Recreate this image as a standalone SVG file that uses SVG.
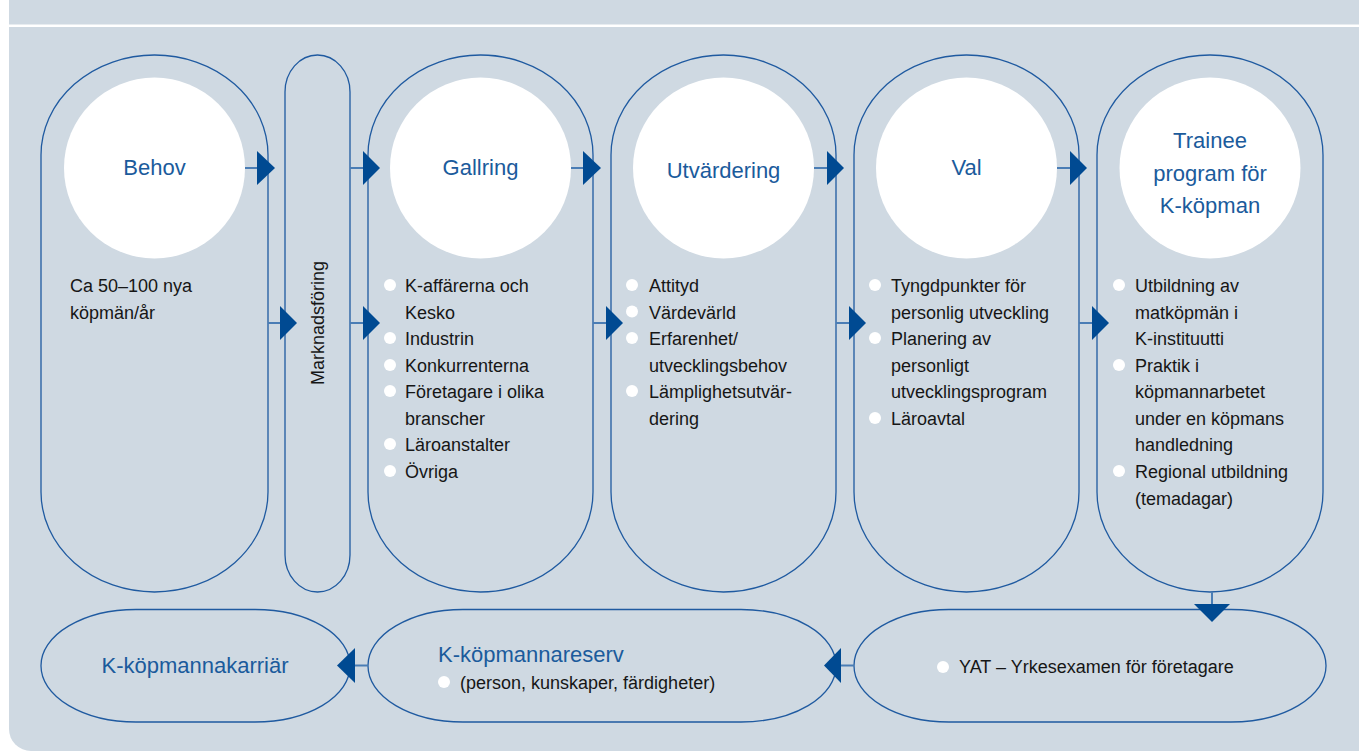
<svg xmlns="http://www.w3.org/2000/svg" width="1359" height="751" viewBox="0 0 1359 751">
  <defs>
    <style>
      .panel { fill: #cfd9e2; }
      .shape { fill: none; stroke: #1f5aa0; stroke-width: 1.3; }
      .disc { fill: #ffffff; }
      .link { stroke: #4a7db5; stroke-width: 2; fill: none; }
      .head { fill: #004a92; }
      .title { font-family: "Liberation Sans", Arial, sans-serif; font-size: 22px; fill: #1b5b9c; }
      .body { font-family: "Liberation Sans", Arial, sans-serif; font-size: 18px; fill: #161616; }
      .dot { fill: #ffffff; }
    </style>
  </defs>

  <!-- background panels -->
  <rect class="panel" x="9" y="0" width="1350" height="24.5"/>
  <path class="panel" d="M9,27 H1359 V751 H31 A22,22 0 0 1 9,729 Z"/>

  <!-- Behov -->
  <g id="node-behov">
    <rect class="shape" x="41" y="55" width="227" height="537" rx="113.5" ry="100"/>
    <circle class="disc" cx="154.5" cy="168" r="90.5"/>
    <text class="title" x="154.5" y="175" text-anchor="middle">Behov</text>
    <text class="body" x="70" y="292">Ca 50–100 nya</text>
    <text class="body" x="70" y="318.5">köpmän/år</text>
  </g>

  <!-- Marknadsföring -->
  <g id="node-marknadsforing">
    <rect class="shape" x="285" y="55" width="65" height="537" rx="32.5" ry="37"/>
    <text class="body" x="0" y="0" text-anchor="middle" transform="translate(324,323) rotate(-90)">Marknadsföring</text>
  </g>

  <!-- Gallring -->
  <g id="node-gallring">
    <rect class="shape" x="368" y="55" width="225" height="537" rx="112.5" ry="100"/>
    <circle class="disc" cx="480.5" cy="168" r="90.5"/>
    <text class="title" x="480.5" y="175" text-anchor="middle">Gallring</text>
    <g class="dot">
      <circle cx="390" cy="285" r="6"/>
      <circle cx="390" cy="338" r="6"/>
      <circle cx="390" cy="365" r="6"/>
      <circle cx="390" cy="391" r="6"/>
      <circle cx="390" cy="444" r="6"/>
      <circle cx="390" cy="471" r="6"/>
    </g>
    <text class="body" x="405" y="292">K-affärerna och</text>
    <text class="body" x="405" y="318.5">Kesko</text>
    <text class="body" x="405" y="345">Industrin</text>
    <text class="body" x="405" y="372">Konkurrenterna</text>
    <text class="body" x="405" y="398">Företagare i olika</text>
    <text class="body" x="405" y="425">branscher</text>
    <text class="body" x="405" y="451">Läroanstalter</text>
    <text class="body" x="405" y="478">Övriga</text>
  </g>

  <!-- Utvärdering -->
  <g id="node-utvardering">
    <rect class="shape" x="611" y="55" width="225" height="537" rx="112.5" ry="100"/>
    <circle class="disc" cx="723.5" cy="168" r="90.5"/>
    <text class="title" x="723.5" y="178" text-anchor="middle">Utvärdering</text>
    <g class="dot">
      <circle cx="632" cy="285" r="6"/>
      <circle cx="632" cy="311.5" r="6"/>
      <circle cx="632" cy="338" r="6"/>
      <circle cx="632" cy="391" r="6"/>
    </g>
    <text class="body" x="649" y="292">Attityd</text>
    <text class="body" x="649" y="318.5">Värdevärld</text>
    <text class="body" x="649" y="345">Erfarenhet/</text>
    <text class="body" x="649" y="372">utvecklingsbehov</text>
    <text class="body" x="649" y="398">Lämplighetsutvär-</text>
    <text class="body" x="649" y="425">dering</text>
  </g>

  <!-- Val -->
  <g id="node-val">
    <rect class="shape" x="854" y="55" width="225" height="537" rx="112.5" ry="100"/>
    <circle class="disc" cx="966.5" cy="168" r="90.5"/>
    <text class="title" x="966.5" y="175" text-anchor="middle">Val</text>
    <g class="dot">
      <circle cx="875" cy="285" r="6"/>
      <circle cx="875" cy="338" r="6"/>
      <circle cx="875" cy="418" r="6"/>
    </g>
    <text class="body" x="891" y="292">Tyngdpunkter för</text>
    <text class="body" x="891" y="318.5">personlig utveckling</text>
    <text class="body" x="891" y="345">Planering av</text>
    <text class="body" x="891" y="372">personligt</text>
    <text class="body" x="891" y="398">utvecklingsprogram</text>
    <text class="body" x="891" y="425">Läroavtal</text>
  </g>

  <!-- Trainee program -->
  <g id="node-trainee">
    <rect class="shape" x="1097" y="55" width="226" height="537" rx="113" ry="100"/>
    <circle class="disc" cx="1210" cy="168" r="90.5"/>
    <text class="title" x="1210" y="148" text-anchor="middle">Trainee</text>
    <text class="title" x="1210" y="181" text-anchor="middle">program för</text>
    <text class="title" x="1210" y="213" text-anchor="middle">K-köpman</text>
    <g class="dot">
      <circle cx="1119" cy="285" r="6"/>
      <circle cx="1119" cy="365" r="6"/>
      <circle cx="1119" cy="471" r="6"/>
    </g>
    <text class="body" x="1135" y="292">Utbildning av</text>
    <text class="body" x="1135" y="318.5">matköpmän i</text>
    <text class="body" x="1135" y="345">K-instituutti</text>
    <text class="body" x="1135" y="372">Praktik i</text>
    <text class="body" x="1135" y="398">köpmannarbetet</text>
    <text class="body" x="1135" y="425">under en köpmans</text>
    <text class="body" x="1135" y="451">handledning</text>
    <text class="body" x="1135" y="478">Regional utbildning</text>
    <text class="body" x="1135" y="505">(temadagar)</text>
  </g>

  <!-- YAT -->
  <g id="node-yat">
    <rect class="shape" x="854" y="609.5" width="472" height="112.5" rx="95" ry="56"/>
    <circle class="dot" cx="943" cy="667" r="6"/>
    <text class="body" x="959" y="673">YAT – Yrkesexamen för företagare</text>
  </g>

  <!-- K-köpmannareserv -->
  <g id="node-reserv">
    <rect class="shape" x="368" y="609.5" width="468" height="112.5" rx="95" ry="56"/>
    <text class="title" x="438" y="662">K-köpmannareserv</text>
    <circle class="dot" cx="444" cy="682" r="6"/>
    <text class="body" x="460" y="689">(person, kunskaper, färdigheter)</text>
  </g>

  <!-- K-köpmannakarriär -->
  <g id="node-karriar">
    <rect class="shape" x="41" y="609.5" width="309" height="112.5" rx="95" ry="56"/>
    <text class="title" x="195" y="673" text-anchor="middle">K-köpmannakarriär</text>
  </g>

  <!-- connectors -->
  <g id="connectors">
    <!-- upper row -->
    <line class="link" x1="245" y1="168" x2="258" y2="168"/>
    <polygon class="head" points="257,151 275,168 257,185"/>
    <line class="link" x1="350" y1="168" x2="364" y2="168"/>
    <polygon class="head" points="363,151 380,168 363,185"/>
    <line class="link" x1="571" y1="168" x2="584" y2="168"/>
    <polygon class="head" points="583,151 601,168 583,185"/>
    <line class="link" x1="814" y1="168" x2="828" y2="168"/>
    <polygon class="head" points="827,151 844,168 827,185"/>
    <line class="link" x1="1057" y1="168" x2="1071" y2="168"/>
    <polygon class="head" points="1070,151 1087,168 1070,185"/>
    <!-- lower row -->
    <line class="link" x1="268" y1="323" x2="281" y2="323"/>
    <polygon class="head" points="280,306 297,323 280,340"/>
    <line class="link" x1="350" y1="323" x2="364" y2="323"/>
    <polygon class="head" points="363,306 380,323 363,340"/>
    <line class="link" x1="593" y1="323" x2="607" y2="323"/>
    <polygon class="head" points="606,306 623,323 606,340"/>
    <line class="link" x1="836" y1="323" x2="850" y2="323"/>
    <polygon class="head" points="849,306 866,323 849,340"/>
    <line class="link" x1="1079" y1="323" x2="1093" y2="323"/>
    <polygon class="head" points="1092,306 1109,323 1092,340"/>
    <!-- down to YAT -->
    <line class="link" x1="1212" y1="592" x2="1212" y2="605"/>
    <polygon class="head" points="1194,604 1230,604 1212,622"/>
    <!-- bottom row, leftwards -->
    <line class="link" x1="854" y1="665.5" x2="840" y2="665.5"/>
    <polygon class="head" points="841,648 824,665.5 841,683"/>
    <line class="link" x1="368" y1="665.5" x2="354" y2="665.5"/>
    <polygon class="head" points="355,648 337,665.5 355,683"/>
  </g>
</svg>
